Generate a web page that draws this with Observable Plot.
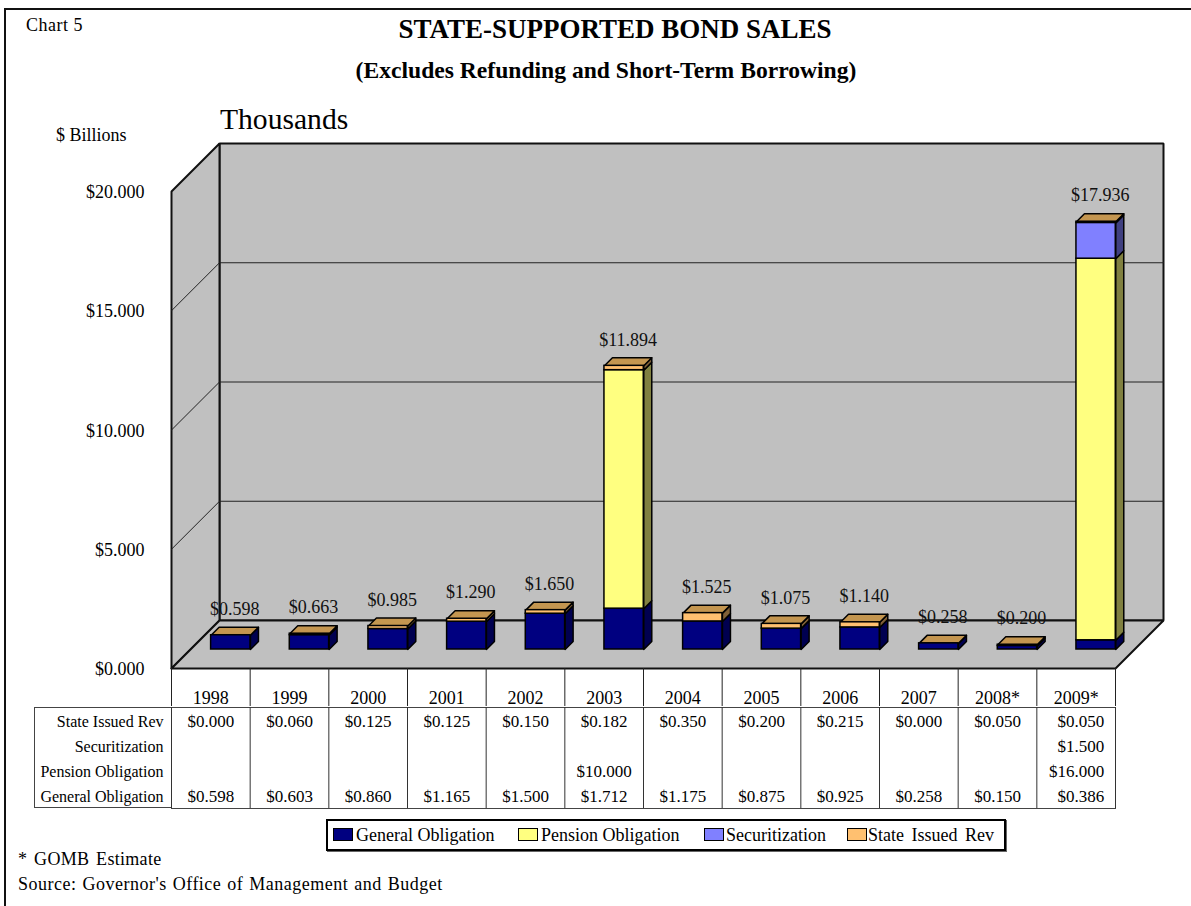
<!DOCTYPE html>
<html><head><meta charset="utf-8">
<script src="https://cdn.jsdelivr.net/npm/d3@7"></script>
<script src="https://cdn.jsdelivr.net/npm/@observablehq/plot@0.6"></script>
<style>
html,body{margin:0;padding:0;background:#fff;overflow:hidden}
#page{position:relative;width:1191px;height:906px;font-family:"Liberation Serif",serif;color:#000;overflow:hidden}
#page>*{position:absolute}
#frame{left:4px;top:8px;right:-5px;bottom:-5px;border-top:2px solid #111;border-left:2px solid #111}
.t{white-space:nowrap;line-height:1}
.c{transform:translateX(-50%)}
#rowbox{left:34px;top:707px;width:137px;height:101px;border:1px solid #444;border-right:none;box-sizing:border-box}
#legend{left:326px;top:819px;width:680px;height:32px;border:2px solid #000;box-sizing:border-box;box-shadow:1px 1px 0 #666}
.sw{position:absolute;top:7px;width:18px;height:11px;border:1.5px solid #000}
.lt{position:absolute;top:5px;font-size:18px;white-space:nowrap;line-height:1.1}
svg{display:block}
</style></head><body>
<div id="page">
<div id="frame"></div>
<div class="t" style="left:26px;top:16px;font-size:18px;letter-spacing:.5px">Chart 5</div>
<div class="t c" style="left:615px;top:16px;font-size:27px;font-weight:bold">STATE-SUPPORTED BOND SALES</div>
<div class="t c" style="left:606px;top:59px;font-size:23.6px;font-weight:bold">(Excludes Refunding and Short-Term Borrowing)</div>
<div class="t" style="left:220px;top:105px;font-size:29.6px">Thousands</div>
<div class="t" style="left:56px;top:126px;font-size:18px">$ Billions</div>
<div id="chart" style="left:0;top:100px"></div>
<div id="rowbox"></div>
<div id="table" style="left:0;top:707px"></div>
<div id="legend"></div>
<div class="t" style="left:18px;top:850px;font-size:18px;word-spacing:2px;letter-spacing:.3px">* GOMB Estimate</div>
<div class="t" style="left:18px;top:875px;font-size:18px;word-spacing:1px;letter-spacing:.5px">Source: Governor's Office of Management and Budget</div>
</div>
<script>
const years = ["1998","1999","2000","2001","2002","2003","2004","2005","2006","2007","2008*","2009*"];
const generalObligation = [0.598,0.603,0.860,1.165,1.500,1.712,1.175,0.875,0.925,0.258,0.150,0.386];
const pensionObligation = [null,null,null,null,null,10.000,null,null,null,null,null,16.000];
const securitization = [null,null,null,null,null,null,null,null,null,null,null,1.500];
const stateIssuedRev = [0.000,0.060,0.125,0.125,0.150,0.182,0.350,0.200,0.215,0.000,0.050,0.050];
const totals = [0.598,0.663,0.985,1.290,1.650,11.894,1.525,1.075,1.140,0.258,0.200,17.936];
const seriesNames = ["General Obligation","Pension Obligation","Securitization","State Issued Rev"];
const seriesValues = [generalObligation,pensionObligation,securitization,stateIssuedRev];
const frontColors = ["#000080","#FFFF80","#8080FF","#FFC070"];
const sideColors = ["#000050","#808040","#404080","#806038"];
const topColor = "#C49650";
const wallColor = "#C0C0C0";
const yTicks = [0,5,10,15,20];

const money = d3.format("$.3f");
const slotPx = 944/12, valPx = 477/20, depthPx = 48;
// oblique projection: depth (in pixels of the 3-D offset) expressed in scale units
const pt = (slot,val,d) => ({x: slot + d/slotPx, y: val + d/valPx});
const poly = (id,color,pts) => pts.concat([pts[0]]).map(p => ({...p,id,color}));

const barFrontDepth = 19, barBackDepth = 27, barL = 0.262, barR = 0.762;
const walls = [
  ...poly("back",wallColor,[pt(0,0,depthPx),pt(12,0,depthPx),pt(12,20,depthPx),pt(0,20,depthPx)]),
  ...poly("side",wallColor,[pt(0,0,0),pt(0,0,depthPx),pt(0,20,depthPx),pt(0,20,0)]),
  ...poly("floor",wallColor,[pt(0,0,0),pt(12,0,0),pt(12,0,depthPx),pt(0,0,depthPx)])
];
const grid = [5,10,15].flatMap(v => [pt(0,v,0),pt(0,v,depthPx),pt(12,v,depthPx)].map(p => ({...p,id:"g"+v})));
const segments = [], faces = [];
years.forEach((yr,i) => {
  let base = 0;
  seriesValues.forEach((vals,s) => {
    const v = vals[i];
    if (v == null || v === 0) return;
    const a = pt(i+barL,base,barFrontDepth), b = pt(i+barR,base+v,barFrontDepth);
    segments.push({x1:a.x,x2:b.x,y1:a.y,y2:b.y,color:frontColors[s]});
    faces.push(...poly(`s${i}-${s}`,sideColors[s],[
      pt(i+barR,base,barFrontDepth),pt(i+barR,base,barBackDepth),
      pt(i+barR,base+v,barBackDepth),pt(i+barR,base+v,barFrontDepth)]));
    base += v;
  });
  faces.push(...poly(`t${i}`,topColor,[
    pt(i+barL,base,barFrontDepth),pt(i+barR,base,barFrontDepth),
    pt(i+barR,base,barBackDepth),pt(i+barL,base,barBackDepth)]));
});
const labels = totals.map((v,i) => ({...pt(i+0.5,v,24),text:money(v)}));
const idx = d3.range(12), edges = d3.range(13);
const font = {fontFamily:'"Liberation Serif",serif',fontSize:"18px",color:"#000",background:"none"};

const chart = Plot.plot({
  width:1191,height:612,marginLeft:171,marginRight:28,marginTop:43,marginBottom:44,
  style:font,
  x:{type:"linear",domain:[0,12+depthPx/slotPx],range:[171,1163]},
  y:{type:"linear",domain:[0,20+depthPx/valPx],range:[568,43]},
  marks:[
    Plot.line(walls,{x:"x",y:"y",z:"id",fill:{value:"color",scale:null},stroke:"#111",strokeWidth:2,strokeLinejoin:"miter"}),
    Plot.line(grid,{x:"x",y:"y",z:"id",stroke:"#222",strokeWidth:1}),
    Plot.line(faces,{x:"x",y:"y",z:"id",fill:{value:"color",scale:null},stroke:"#000",strokeWidth:1.5,strokeLinejoin:"round"}),
    Plot.rect(segments,{x1:"x1",x2:"x2",y1:"y1",y2:"y2",fill:{value:"color",scale:null},stroke:"#000",strokeWidth:1.5}),
    Plot.text(labels,{x:"x",y:"y",text:"text",dy:-21,fontSize:18,fill:"#111"}),
    Plot.axisY(yTicks,{anchor:"left",tickSize:0,tickPadding:27,tickFormat:money,fontSize:18,label:null,dy:0.8}),
    Plot.axisX(edges,{anchor:"bottom",tickSize:38,fill:"none",stroke:"#222",label:null}),
    Plot.axisX(idx.map(i => i+0.5),{anchor:"bottom",tickSize:0,tickPadding:23,tickFormat:d => years[Math.floor(d)],fontSize:18,label:null})
  ]
});
document.getElementById("chart").append(chart);

const cells = seriesValues.flatMap((vals,s) => vals.map((v,i) => ({x:i+0.5,i,row:seriesNames[s],v}))).filter(d => d.v != null);
const table = Plot.plot({
  width:1191,height:102,marginLeft:171,marginRight:76,marginTop:0,marginBottom:1,
  style:{...font,fontSize:"16px"},
  x:{type:"linear",domain:[0,12],range:[171,1115],axis:null},
  y:{type:"band",domain:[...seriesNames].reverse(),padding:0},
  marks:[
    Plot.frame({stroke:"#444",strokeWidth:1}),
    Plot.ruleX(edges,{stroke:"#333",strokeWidth:1}),
    Plot.axisY({anchor:"left",tickSize:0,tickPadding:8,fontSize:16,label:null,dy:1}),
    Plot.text(cells.filter(d => d.i < 11),{x:"x",y:"row",text:d => money(d.v),fontSize:17,dy:1}),
    Plot.text(cells.filter(d => d.i === 11),{x:"x",y:"row",text:d => money(d.v),fontSize:17,dy:1,dx:28,textAnchor:"end"})
  ]
});
document.getElementById("table").append(table);

const legend = document.getElementById("legend");
const swatchX = [5,190,376,519], textX = [28,213,398,540];
seriesNames.forEach((n,s) => {
  const sw = document.createElement("div"); sw.className="sw";
  sw.style.left = swatchX[s]+"px"; sw.style.background = frontColors[s]; legend.append(sw);
  const t = document.createElement("div"); t.className="lt"; t.textContent = n;
  t.style.left = textX[s]+"px";
  if (s === 3) t.style.wordSpacing = "3px";
  legend.append(t);
});
</script>
</body></html>
